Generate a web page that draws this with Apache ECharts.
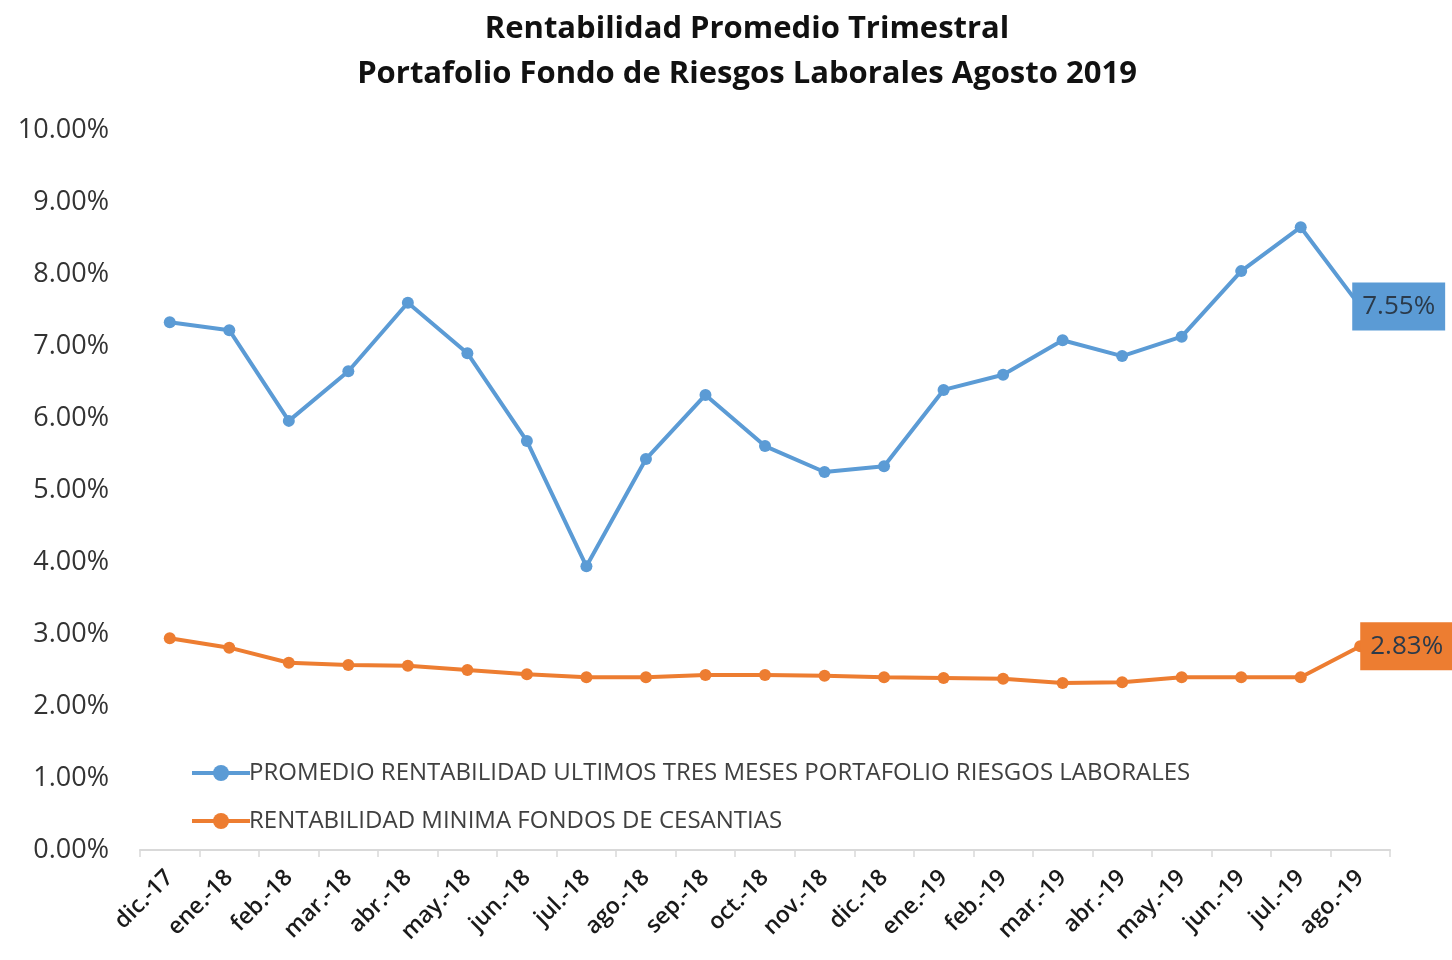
<!DOCTYPE html>
<html><head><meta charset="utf-8">
<script src="https://cdn.jsdelivr.net/npm/echarts@6/dist/echarts.min.js"></script>
<style>html,body{margin:0;padding:0;background:#fff}#c{width:1452px;height:960px}</style>
</head><body><div id="c"></div>
<script>
const categories = ["dic.-17","ene.-18","feb.-18","mar.-18","abr.-18","may.-18","jun.-18","jul.-18","ago.-18","sep.-18","oct.-18","nov.-18","dic.-18","ene.-19","feb.-19","mar.-19","abr.-19","may.-19","jun.-19","jul.-19","ago.-19"];
const promedioRiesgos = [7.33,7.22,5.96,6.65,7.60,6.90,5.68,3.94,5.43,6.32,5.61,5.25,5.33,6.39,6.60,7.08,6.86,7.13,8.04,8.65,7.55];
const minimaCesantias = [2.94,2.81,2.60,2.57,2.56,2.50,2.44,2.40,2.40,2.43,2.43,2.42,2.40,2.39,2.38,2.32,2.33,2.40,2.40,2.40,2.83];
const seriesNames = ["PROMEDIO RENTABILIDAD ULTIMOS TRES MESES PORTAFOLIO RIESGOS LABORALES","RENTABILIDAD MINIMA FONDOS DE CESANTIAS"];
const titleLines = ["Rentabilidad Promedio Trimestral","Portafolio Fondo de Riesgos Laborales Agosto 2019"];

const chart = echarts.init(document.getElementById('c'));
const FONT = "'Open Sans', 'Noto Sans', sans-serif";
const last = categories.length - 1;
function withLastLabel(values, bg, dist){
  return values.map((v, i) => i !== last ? v : {
    value: v,
    label: {
      show: true,
      position: 'right',
      distance: dist,
      formatter: p => p.value.toFixed(2) + '%',
      backgroundColor: bg,
      color: '#2b3a4a',
      fontFamily: FONT,
      fontSize: 26,
      padding: [13, 10, 9, 10]
    }
  });
}
chart.setOption({
  animation: false,
  title: {
    text: titleLines.join('\n'),
    left: 742,
    textAlign: 'center',
    top: 2,
    textStyle: { fontFamily: FONT, fontWeight: 'bold', fontSize: 31, lineHeight: 45, color: '#111' }
  },
  grid: { left: 140, right: 62, top: 130, bottom: 110, containLabel: false },
  legend: {
    orient: 'vertical',
    left: 185,
    top: 756,
    itemGap: 24,
    itemWidth: 58,
    itemHeight: 20,
    lineStyle: { width: 4 },
    textStyle: { fontFamily: FONT, fontSize: 24, color: '#404040', padding: [0,0,0,-6] },
    data: seriesNames
  },
  xAxis: {
    type: 'category',
    data: categories,
    boundaryGap: true,
    axisLine: { lineStyle: { color: '#d9d9d9', width: 2 } },
    axisTick: { show: true, length: 7, lineStyle: { color: '#d9d9d9', width: 1.5 } },
    axisLabel: { rotate: 45, interval: 0, fontFamily: FONT, fontSize: 23, fontWeight: 600, color: '#1a1a1a', margin: 24 },
    splitLine: { show: false }
  },
  yAxis: {
    type: 'value',
    min: 0, max: 10, interval: 1,
    axisLine: { show: false },
    axisTick: { show: false },
    splitLine: { show: false },
    axisLabel: { formatter: v => v.toFixed(2) + '%', fontFamily: FONT, fontSize: 27, color: '#333', margin: 31 }
  },
  series: [
    {
      name: seriesNames[0], type: 'line', data: withLastLabel(promedioRiesgos, '#5B9BD5', -14),
      symbol: 'circle', symbolSize: 12,
      lineStyle: { color: '#5B9BD5', width: 4 },
      itemStyle: { color: '#5B9BD5' }
    },
    {
      name: seriesNames[1], type: 'line', data: withLastLabel(minimaCesantias, '#ED7D31', -6),
      symbol: 'circle', symbolSize: 12,
      lineStyle: { color: '#ED7D31', width: 4 },
      itemStyle: { color: '#ED7D31' }
    }
  ]
});
</script>
</body></html>
